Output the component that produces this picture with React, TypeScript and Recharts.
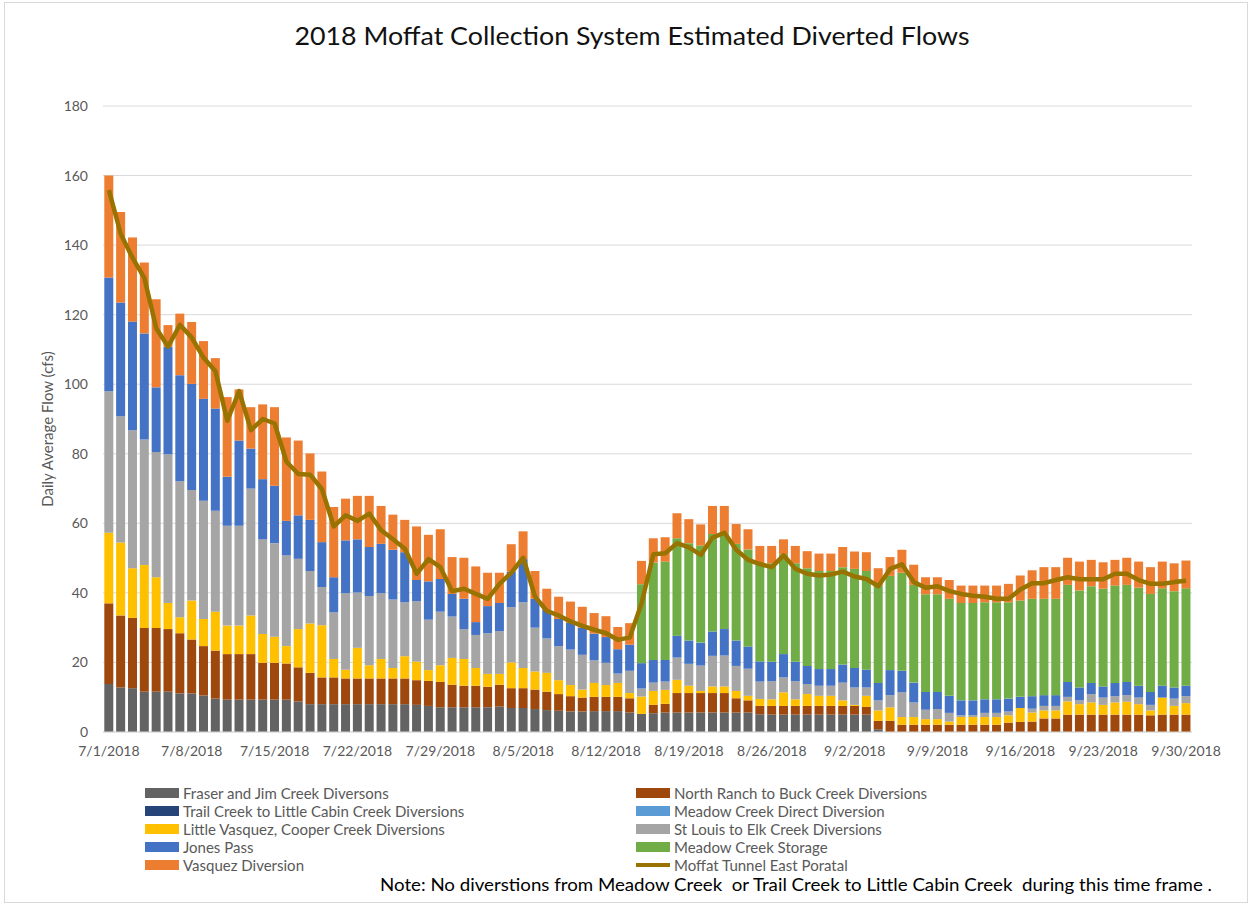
import React from 'react'
import { ComposedChart, Bar, Line, XAxis, YAxis, CartesianGrid } from 'recharts'

// daily categories 7/1/2018 .. 9/30/2018
const dates: string[] = []
for (let d = new Date(2018, 6, 1); d <= new Date(2018, 8, 30); d.setDate(d.getDate() + 1)) {
  dates.push(`${d.getMonth() + 1}/${d.getDate()}/2018`)
}

const yTicks = [0, 20, 40, 60, 80, 100, 120, 140, 160, 180]

// cfs
const fraser = [
  13.8, 12.8, 12.6, 11.6, 11.6, 11.6, 11.1, 11.1, 10.5, 9.6, 9.3, 9.3, 9.3,
  9.3, 9.3, 9.3, 8.8, 8.0, 8.0, 8.0, 8.0, 8.0, 8.0, 8.0, 8.0, 8.0,
  7.8, 7.5, 7.1, 7.1, 7.1, 7.1, 7.1, 7.3, 6.9, 6.9, 6.6, 6.3, 6.1,
  5.9, 5.9, 6.0, 6.0, 6.0, 5.6, 5.2, 5.4, 5.6, 5.6, 5.6, 5.6, 5.6,
  5.6, 5.6, 5.6, 5.1, 5.0, 5.0, 5.0, 5.0, 5.0, 5.0, 5.0, 5.0, 5.0,
  0.8, 0, 0, 0, 0, 0, 0, 0, 0, 0, 0, 0, 0,
  0, 0, 0, 0, 0, 0, 0, 0, 0, 0, 0, 0, 0, 0,
]
const northRanch = [
  23.2, 20.7, 20.2, 18.3, 18.3, 18.0, 17.3, 15.5, 14.2, 13.8, 13.1, 13.1, 13.1,
  10.6, 10.6, 10.4, 9.8, 9.0, 7.7, 7.7, 7.4, 7.4, 7.4, 7.4, 7.4, 7.4,
  7.1, 7.2, 7.3, 6.5, 6.2, 6.2, 5.9, 6.3, 5.7, 5.7, 5.6, 5.3, 4.8,
  4.4, 4.0, 4.1, 4.1, 4.1, 4.1, 0, 2.4, 2.5, 5.6, 5.6, 5.6, 5.6,
  5.6, 4.1, 3.5, 2.4, 2.5, 2.5, 2.5, 2.5, 2.5, 2.5, 2.5, 2.5, 2.2,
  2.4, 3.2, 2.1, 2.1, 2.1, 2.1, 2.1, 2.1, 2.1, 2.1, 2.1, 2.7, 2.9,
  3.0, 3.9, 3.9, 5.0, 5.0, 5.0, 5.0, 5.0, 5.0, 5.0, 4.8, 5.0, 5.0, 5.0,
]
// no diversions from these two during the period
const trailCreek = dates.map(() => 0)
const meadowDirect = dates.map(() => 0)
const littleVasquez = [
  20.3, 21.0, 14.3, 18.1, 14.6, 7.5, 4.6, 11.2, 7.8, 11.2, 8.2, 8.2, 11.1,
  8.3, 7.5, 5.0, 11.0, 14.2, 15.0, 5.3, 2.5, 8.8, 3.8, 5.6, 3.0, 6.4,
  5.3, 3.1, 4.8, 7.7, 7.7, 5.1, 3.7, 3.1, 7.4, 5.8, 5.2, 5.4, 4.0,
  3.2, 2.3, 4.0, 3.4, 4.0, 1.5, 5.0, 4.0, 4.0, 3.8, 2.1, 0.6, 1.9,
  1.9, 2.1, 1.3, 2.0, 1.9, 3.9, 1.9, 3.4, 2.9, 2.9, 1.6, 0.3, 3.2,
  3.0, 3.9, 2.2, 2.2, 1.6, 1.6, 0.9, 2.2, 2.2, 2.2, 2.2, 2.1, 4.0,
  2.6, 2.3, 2.3, 3.8, 3.0, 3.5, 2.8, 3.5, 3.7, 3.0, 1.4, 4.9, 2.5, 3.3,
]
const stLouis = [
  40.7, 36.3, 39.7, 36.1, 36.0, 42.8, 39.1, 31.8, 34.0, 29.0, 28.7, 28.7, 36.5,
  27.2, 26.9, 26.1, 20.2, 15.1, 11.0, 13.4, 22.0, 15.9, 19.9, 18.9, 19.7, 15.5,
  17.4, 14.5, 15.4, 11.9, 8.6, 9.5, 11.7, 12.3, 15.9, 18.9, 12.6, 9.9, 9.8,
  10.2, 10.0, 6.5, 6.4, 2.7, 6.4, 2.3, 2.4, 2.4, 6.4, 6.3, 7.3, 8.8,
  8.9, 7.2, 7.8, 5.0, 5.2, 4.3, 5.2, 2.9, 2.9, 2.9, 5.1, 5.0, 2.4,
  2.9, 3.5, 7.1, 4.2, 2.7, 2.9, 2.5, 0.5, 0.5, 1.2, 1.2, 1.1, 0,
  1.1, 1.3, 1.3, 1.3, 1.1, 2.4, 2.1, 1.8, 1.9, 1.9, 1.6, 0, 2.1, 2.0,
]
const jonesPass = [
  32.7, 32.7, 31.2, 30.5, 18.6, 30.9, 30.5, 30.5, 29.3, 29.4, 14.1, 24.5, 11.5,
  17.3, 16.5, 9.9, 12.5, 14.7, 12.9, 10.1, 15.2, 15.3, 14.1, 14.2, 14.3, 14.4,
  6.1, 11.0, 9.4, 6.5, 8.7, 3.7, 7.8, 8.1, 10.2, 12.4, 8.3, 8.2, 7.8,
  7.7, 7.8, 7.7, 7.4, 7.0, 7.5, 7.3, 6.5, 6.2, 6.3, 6.7, 6.6, 7.0,
  7.6, 7.3, 6.4, 5.8, 5.6, 6.7, 5.6, 5.2, 4.8, 4.8, 5.2, 5.6, 5.1,
  5.0, 7.2, 6.2, 5.7, 5.1, 4.9, 4.9, 4.3, 4.3, 3.9, 3.9, 3.7, 3.2,
  3.6, 3.1, 3.1, 4.3, 3.7, 3.2, 3.2, 3.8, 3.8, 3.4, 3.7, 3.4, 3.2, 3.0,
]
const meadowStorage = [
  0, 0, 0, 0, 0, 0, 0, 0, 0, 0, 0, 0, 0,
  0, 0, 0, 0, 0, 0, 0, 0, 0, 0, 0, 0, 0,
  0, 0, 0, 0, 0, 0, 0, 0, 0, 0, 0, 0, 0,
  0, 0, 0, 0, 0, 0, 22.7, 28.0, 28.3, 28.0, 28.0, 27.9, 28.0,
  27.5, 27.8, 27.9, 28.2, 28.3, 28.7, 28.3, 28.1, 28.2, 28.2, 28.0, 28.5, 28.4,
  28.0, 27.1, 28.2, 28.1, 28.1, 28.1, 27.9, 28.0, 28.0, 27.9, 27.9, 27.7, 27.7,
  28.0, 27.7, 27.7, 27.9, 27.9, 27.8, 28.1, 28.0, 27.9, 28.2, 28.2, 28.0, 27.7, 28.0,
]
const vasquez = [
  29.3, 26.0, 24.2, 20.4, 25.3, 6.2, 17.7, 17.8, 16.6, 14.5, 22.9, 14.7, 11.9,
  21.5, 22.6, 24.0, 21.5, 19.1, 20.3, 20.2, 12.0, 12.5, 14.7, 10.9, 10.1, 9.3,
  15.4, 13.4, 14.3, 10.6, 11.8, 16.0, 9.6, 8.7, 7.9, 8.0, 8.0, 6.1, 6.4,
  6.1, 6.0, 5.9, 6.0, 6.4, 6.2, 6.7, 7.0, 7.0, 7.2, 6.9, 6.1, 8.1,
  7.9, 5.7, 5.8, 5.0, 5.0, 4.3, 5.0, 4.9, 5.0, 5.0, 5.8, 5.0, 5.4,
  5.0, 5.4, 6.6, 5.8, 4.9, 4.9, 5.4, 5.0, 5.0, 4.8, 4.8, 5.3, 7.2,
  8.2, 9.1, 9.1, 7.8, 8.3, 7.6, 7.6, 7.4, 7.8, 7.5, 7.7, 7.7, 8.0, 8.0,
]
const moffat = [
  155.8, 143.2, 136.3, 130.5, 116.1, 110.8, 117.1, 113.4, 107.6, 103.7, 89.5, 98.0, 86.8,
  90.0, 88.7, 77.7, 74.2, 74.0, 69.8, 59.1, 62.3, 60.7, 62.8, 58.0, 55.4, 52.7,
  45.5, 49.7, 47.4, 40.5, 41.2, 39.7, 38.3, 42.6, 45.8, 50.1, 38.9, 34.8, 33.5,
  31.8, 30.5, 29.4, 28.4, 26.5, 27.2, 37.0, 51.1, 51.4, 54.3, 53.1, 50.9, 55.9,
  57.3, 52.4, 49.5, 48.3, 47.4, 50.8, 46.9, 45.5, 45.0, 45.3, 46.1, 44.7, 44.0,
  41.9, 46.9, 48.2, 43.1, 41.5, 41.9, 40.5, 39.7, 39.2, 38.9, 38.3, 38.3, 41.0,
  42.8, 42.8, 43.7, 44.5, 43.9, 43.9, 43.9, 45.5, 45.5, 43.7, 42.6, 42.6, 43.1, 43.5,
]

const data = dates.map((date, i) => ({
  date,
  fraser: fraser[i],
  northRanch: northRanch[i],
  trailCreek: trailCreek[i],
  meadowDirect: meadowDirect[i],
  littleVasquez: littleVasquez[i],
  stLouis: stLouis[i],
  jonesPass: jonesPass[i],
  meadowStorage: meadowStorage[i],
  vasquez: vasquez[i],
  moffat: moffat[i],
}))

const barSeries = [
  { key: 'fraser', name: 'Fraser and Jim Creek Diversons', color: '#636363' },
  { key: 'northRanch', name: 'North Ranch to Buck Creek Diversions', color: '#9E480E' },
  { key: 'trailCreek', name: 'Trail Creek to Little Cabin Creek Diversions', color: '#264478' },
  { key: 'meadowDirect', name: 'Meadow Creek Direct Diversion', color: '#5B9BD5' },
  { key: 'littleVasquez', name: 'Little Vasquez, Cooper Creek Diversions', color: '#FFC000' },
  { key: 'stLouis', name: 'St Louis to Elk Creek Diversions', color: '#A5A5A5' },
  { key: 'jonesPass', name: 'Jones Pass', color: '#4472C4' },
  { key: 'meadowStorage', name: 'Meadow Creek Storage', color: '#70AD47' },
  { key: 'vasquez', name: 'Vasquez Diversion', color: '#ED7D31' },
]
const lineColor = '#997300'

const font = 'Lato, "Open Sans", sans-serif'
const axisText = '#595959'

function LegendOverlay() {
  const rows = [793, 811, 829, 847, 865]
  const items = [...barSeries.map((s) => ({ ...s, line: false })), { key: 'moffat', name: 'Moffat Tunnel East Poratal', color: lineColor, line: true }]
  return (
    <g fontFamily={font} fontSize={15} fill={axisText}>
      {items.map((it, i) => {
        const col = i % 2
        const y = rows[Math.floor(i / 2)]
        const sx = col === 0 ? 145 : 636
        const tx = col === 0 ? 183 : 674
        return (
          <g key={it.key}>
            {it.line ? (
              <line x1={sx} x2={sx + 34} y1={y} y2={y} stroke={it.color} strokeWidth={4} />
            ) : (
              <rect x={sx} y={y - 5} width={34} height={10} fill={it.color} />
            )}
            <text x={tx} y={y} dominantBaseline="central">{it.name}</text>
          </g>
        )
      })}
    </g>
  )
}

export default function App() {
  return (
    <div style={{ position: 'absolute', left: 0, top: 0, width: 1251, height: 905, background: '#fff' }}>
      <div style={{ position: 'absolute', left: 4, top: 2, width: 1242, height: 899, border: '1px solid #d9d9d9' }} />
      <ComposedChart
        width={1251}
        height={905}
        data={data}
        margin={{ top: 106, right: 59, bottom: 143, left: 43 }}
        barCategoryGap="11%"
        style={{ position: 'absolute', left: 0, top: 0 }}
      >
        <CartesianGrid vertical={false} stroke="#d9d9d9" />
        <XAxis
          dataKey="date"
          interval={6}
          height={30}
          tickLine={false}
          axisLine={{ stroke: '#d9d9d9' }}
          tickMargin={8}
          tick={{ fontSize: 14, fill: axisText, fontFamily: font }}
        />
        <YAxis
          width={60}
          domain={[0, 180]}
          ticks={yTicks}
          tickLine={false}
          axisLine={false}
          tickMargin={9}
          tick={{ fontSize: 14, fill: axisText, fontFamily: font }}
        />
        {barSeries.map((s) => (
          <Bar key={s.key} dataKey={s.key} name={s.name} stackId="flow" fill={s.color} isAnimationActive={false} />
        ))}
        <Line
          type="linear"
          dataKey="moffat"
          name="Moffat Tunnel East Poratal"
          stroke={lineColor}
          strokeWidth={4.5}
          strokeLinejoin="round"
          dot={false}
          activeDot={false}
          isAnimationActive={false}
        />
      </ComposedChart>
      <svg width={1251} height={905} style={{ position: 'absolute', left: 0, top: 0, pointerEvents: 'none' }}>
        <text x={632} y={45} textAnchor="middle" fontFamily={font} fontSize={25} fill="#111" textLength={675} lengthAdjust="spacingAndGlyphs">
          2018 Moffat Collection System Estimated Diverted Flows
        </text>
        <text
          transform="translate(53,429) rotate(-90)"
          textAnchor="middle"
          fontFamily={font}
          fontSize={15}
          fill={axisText}
        >
          Daily Average Flow (cfs)
        </text>
        <LegendOverlay />
        <text
          x={380}
          y={891}
          fontFamily={font}
          fontSize={17}
          fill="#000"
          textLength={832}
          lengthAdjust="spacingAndGlyphs"
          style={{ whiteSpace: 'pre' }}
        >
          {'Note: No diverstions from Meadow Creek  or Trail Creek to Little Cabin Creek  during this time frame .'}
        </text>
      </svg>
    </div>
  )
}
